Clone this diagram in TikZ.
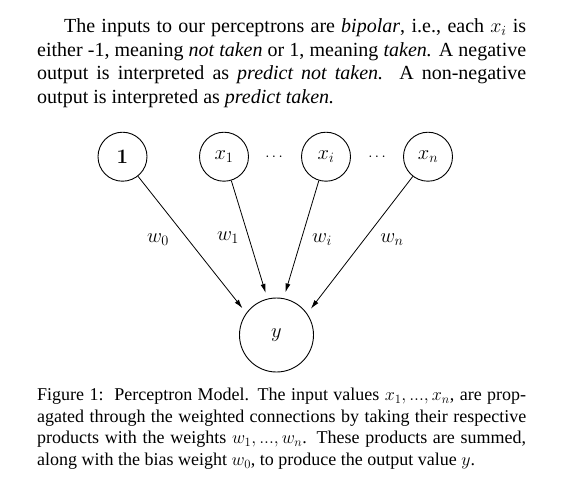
\RequirePackage{fix-cm}
\documentclass[tikz,border=0pt]{standalone}
\usepackage[no-math]{fontspec}
\setmainfont{Liberation Serif}
\usetikzlibrary{arrows.meta}
\begin{document}
\begin{tikzpicture}[x=1pt,y=-1pt,
  unit/.style={circle,draw,line width=0.9pt,inner sep=0pt},
  inp/.style={unit,minimum size=49pt,font=\fontsize{20.5}{24}\selectfont},
  outp/.style={unit,minimum size=74pt,font=\fontsize{20.5}{24}\selectfont},
  wlabel/.style={font=\fontsize{20.5}{24}\selectfont},
  dotlabel/.style={font=\fontsize{15}{17}\selectfont},
  conn/.style={line width=0.8pt,-{Latex[length=9pt,width=5pt]},shorten >=6pt},
  para/.style={anchor=north west,inner sep=0pt,align=justify}]
\useasboundingbox (0,0) rectangle (565,496);
\node[para,text width=489pt,font=\fontsize{20}{23.5}\selectfont] (txt) at (37,18.6)
 {\hspace*{27pt}The inputs to our perceptrons are \textit{bipolar}, i.e., each $x_i$ is\linebreak
 either -1, meaning \textit{not taken} or 1, meaning \textit{taken.} A negative\linebreak
 output is interpreted as \textit{predict not taken.}\ \ A non-negative\linebreak
 output is interpreted as \textit{predict taken.}};
\node[inp] (one) at (122.5,156.7) {$\mathbf{1}$};
\node[inp] (x1) at (224,156.7) {$x_1$};
\node[inp] (xi) at (326,156.7) {$x_i$};
\node[inp] (xn) at (428,156.7) {$x_n$};
\node[dotlabel] (d1) at (274,157) {$\cdots$};
\node[dotlabel] (d2) at (377,157) {$\cdots$};
\node[outp] (y) at (276.5,335) {$y$};
\draw[conn] (one) -- (y.144);
\draw[conn] (x1) -- (y.104);
\draw[conn] (xi) -- (y.79);
\draw[conn] (xn) -- (y.35);
\node[wlabel] (w0) at (158,240) {$w_0$};
\node[wlabel] (w1) at (228,238) {$w_1$};
\node[wlabel] (wi) at (322,240) {$w_i$};
\node[wlabel] (wn) at (392,240) {$w_n$};
\node[para,text width=489pt,font=\fontsize{18}{21.7}\selectfont] (cap) at (37,387.7)
 {Figure 1:\ \ Perceptron Model. The input values $x_1, ..., x_n$, are prop-\linebreak
 agated through the weighted connections by taking their respective\linebreak
 products with the weights $w_1, ..., w_n$. These products are summed,\linebreak
 along with the bias weight $w_0$, to produce the output value $y$.};
\end{tikzpicture}
\end{document}
